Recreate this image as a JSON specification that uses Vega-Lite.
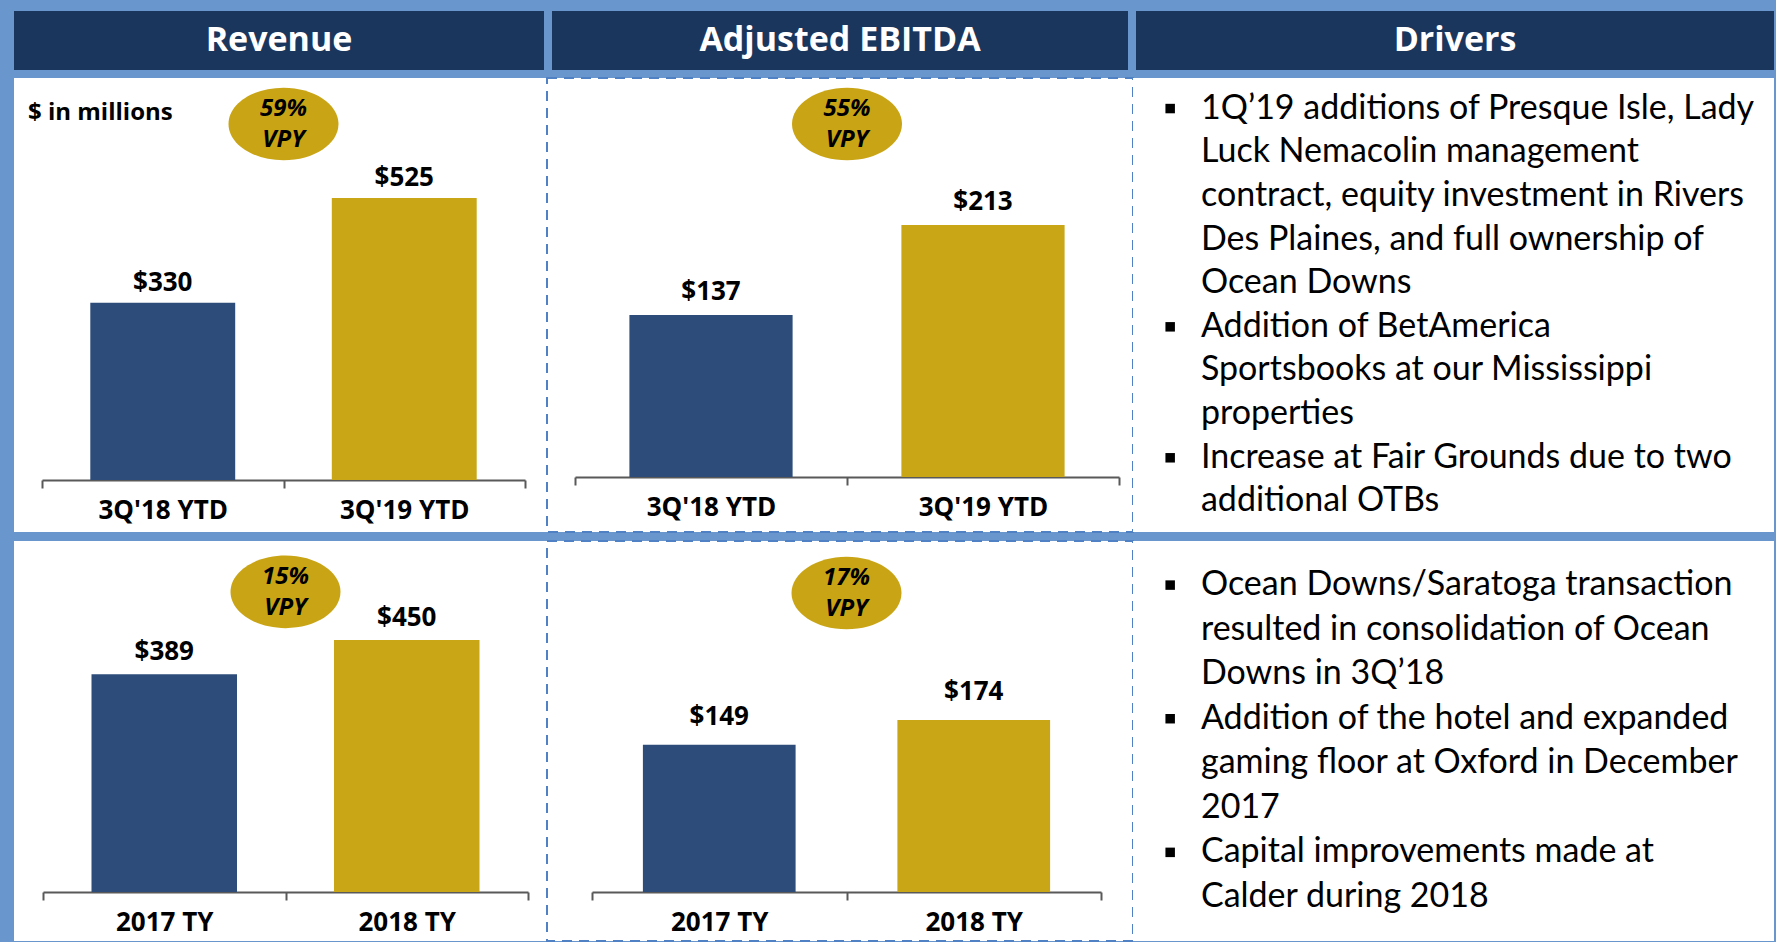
{
  "$schema": "https://vega.github.io/schema/vega-lite/v6.json",
  "background": "#6A96CE",
  "padding": {"left": 14, "top": 11, "right": 2, "bottom": 0},
  "spacing": 7,
  "config": {
    "view": {"stroke": null},
    "axisX": {
      "title": null, "labelAngle": 0, "grid": false,
      "domainColor": "#595959", "domainWidth": 2,
      "tickColor": "#595959", "tickWidth": 2, "tickSize": 8, "tickBand": "extent",
      "labelFont": "Open Sans", "labelFontWeight": "bold", "labelFontSize": 26,
      "labelColor": "#000000", "labelPadding": 22, "labelBaseline": "middle"
    }
  },
  "datasets": {
    "rev_ytd": [
      {"period": "3Q'18 YTD", "value": 330, "year": "prior"},
      {"period": "3Q'19 YTD", "value": 525, "year": "current", "growth": "59%"}
    ],
    "ebitda_ytd": [
      {"period": "3Q'18 YTD", "value": 137, "year": "prior"},
      {"period": "3Q'19 YTD", "value": 213, "year": "current", "growth": "55%"}
    ],
    "rev_ty": [
      {"period": "2017 TY", "value": 389, "year": "prior"},
      {"period": "2018 TY", "value": 450, "year": "current", "growth": "15%"}
    ],
    "ebitda_ty": [
      {"period": "2017 TY", "value": 149, "year": "prior"},
      {"period": "2018 TY", "value": 174, "year": "current", "growth": "17%"}
    ],
    "drivers_ytd": [
      {"line": 1, "bullet": true, "text": "1Q’19 additions of Presque Isle, Lady"},
      {"line": 2, "bullet": false, "text": "Luck Nemacolin management"},
      {"line": 3, "bullet": false, "text": "contract, equity investment in Rivers"},
      {"line": 4, "bullet": false, "text": "Des Plaines, and full ownership of"},
      {"line": 5, "bullet": false, "text": "Ocean Downs"},
      {"line": 6, "bullet": true, "text": "Addition of BetAmerica"},
      {"line": 7, "bullet": false, "text": "Sportsbooks at our Mississippi"},
      {"line": 8, "bullet": false, "text": "properties"},
      {"line": 9, "bullet": true, "text": "Increase at Fair Grounds due to two"},
      {"line": 10, "bullet": false, "text": "additional OTBs"}
    ],
    "drivers_ty": [
      {"line": 1, "bullet": true, "text": "Ocean Downs/Saratoga transaction"},
      {"line": 2, "bullet": false, "text": "resulted in consolidation of Ocean"},
      {"line": 3, "bullet": false, "text": "Downs in 3Q’18"},
      {"line": 4, "bullet": true, "text": "Addition of the hotel and expanded"},
      {"line": 5, "bullet": false, "text": "gaming floor at Oxford in December"},
      {"line": 6, "bullet": false, "text": "2017"},
      {"line": 7, "bullet": true, "text": "Capital improvements made at"},
      {"line": 8, "bullet": false, "text": "Calder during 2018"}
    ]
  },
  "vconcat": [
    {
      "bounds": "flush",
      "spacing": 8,
      "hconcat": [
        {
          "width": 530, "height": 59,
          "view": {"fill": "#1B365D", "stroke": null},
          "data": {"values": [{"h": "Revenue"}]},
          "mark": {"type": "text", "font": "Open Sans", "fontWeight": "bold", "fontSize": 34, "color": "#FFFFFF", "baseline": "middle"},
          "encoding": {"text": {"field": "h"}}
        },
        {
          "width": 576, "height": 59,
          "view": {"fill": "#1B365D", "stroke": null},
          "data": {"values": [{"h": "Adjusted EBITDA"}]},
          "mark": {"type": "text", "font": "Open Sans", "fontWeight": "bold", "fontSize": 34, "color": "#FFFFFF", "baseline": "middle"},
          "encoding": {"text": {"field": "h"}}
        },
        {
          "width": 638, "height": 59,
          "view": {"fill": "#1B365D", "stroke": null},
          "data": {"values": [{"h": "Drivers"}]},
          "mark": {"type": "text", "font": "Open Sans", "fontWeight": "bold", "fontSize": 34, "color": "#FFFFFF", "baseline": "middle"},
          "encoding": {"text": {"field": "h"}}
        }
      ]
    },
    {
      "bounds": "flush",
      "spacing": 0,
      "hconcat": [
        {
          "width": 533, "height": 454,
          "view": {"fill": "#FFFFFF", "stroke": null},
          "data": {"name": "rev_ytd"},
          "encoding": {
            "x": {"field": "period", "type": "nominal", "sort": null,
                  "scale": {"range": [28, 511], "paddingInner": 0, "paddingOuter": 0},
                  "axis": {"offset": -52}}
          },
          "layer": [
            {
              "mark": {"type": "bar", "width": {"band": 0.6}},
              "encoding": {
                "y": {"field": "value", "type": "quantitative", "scale": {"domain": [-96.8, 748.6], "nice": false}, "axis": null},
                "y2": {"datum": 0},
                "color": {"field": "year", "type": "nominal", "scale": {"domain": ["prior", "current"], "range": ["#2D4C79", "#C8A616"]}, "legend": null}
              }
            },
            {
              "mark": {"type": "text", "font": "Open Sans", "fontWeight": "bold", "fontSize": 26, "color": "#000000", "baseline": "alphabetic", "dy": -12},
              "encoding": {
                "y": {"field": "value", "type": "quantitative"},
                "text": {"field": "value", "type": "quantitative", "format": "$,.0f"}
              }
            },
            {
              "transform": [{"filter": "datum.growth"}],
              "mark": {"type": "point", "shape": "M -1 0 A 1 0.66 0 1 0 1 0 A 1 0.66 0 1 0 -1 0 Z", "filled": true, "size": 12100, "color": "#C9A516", "opacity": 1},
              "encoding": {
                "x": {"field": "period", "type": "nominal", "bandPosition": 0},
                "y": {"datum": 663}
              }
            },
            {
              "transform": [{"filter": "datum.growth"}],
              "mark": {"type": "text", "font": "Open Sans", "fontWeight": "bold", "fontStyle": "italic", "fontSize": 24, "color": "#000000", "baseline": "middle", "dy": -15},
              "encoding": {
                "x": {"field": "period", "type": "nominal", "bandPosition": 0},
                "y": {"datum": 663},
                "text": {"field": "growth"}
              }
            },
            {
              "transform": [{"filter": "datum.growth"}],
              "mark": {"type": "text", "font": "Open Sans", "fontWeight": "bold", "fontStyle": "italic", "fontSize": 24, "color": "#000000", "baseline": "middle", "dy": 16},
              "encoding": {
                "x": {"field": "period", "type": "nominal", "bandPosition": 0},
                "y": {"datum": 663},
                "text": {"value": "VPY"}
              }
            },
            {
              "transform": [{"filter": "datum.year == 'prior'"}],
              "mark": {"type": "text", "font": "Open Sans", "fontWeight": "bold", "fontSize": 24, "color": "#000000", "align": "left", "baseline": "alphabetic", "dx": -14},
              "encoding": {
                "x": {"field": "period", "type": "nominal", "bandPosition": 0},
                "y": {"datum": 670},
                "text": {"value": "$ in millions"}
              }
            }
          ]
        },
        {
          "width": 586, "height": 454,
          "view": {"fill": "#FFFFFF", "stroke": "#4F81C4", "strokeWidth": 2, "strokeDash": [10, 7]},
          "data": {"name": "ebitda_ytd"},
          "encoding": {
            "x": {"field": "period", "type": "nominal", "sort": null,
                  "scale": {"range": [28, 572], "paddingInner": 0, "paddingOuter": 0},
                  "axis": {"offset": -55}}
          },
          "layer": [
            {
              "mark": {"type": "bar", "width": {"band": 0.6}},
              "encoding": {
                "y": {"field": "value", "type": "quantitative", "scale": {"domain": [-46.5, 337.3], "nice": false}, "axis": null},
                "y2": {"datum": 0},
                "color": {"field": "year", "type": "nominal", "scale": {"domain": ["prior", "current"], "range": ["#2D4C79", "#C8A616"]}, "legend": null}
              }
            },
            {
              "mark": {"type": "text", "font": "Open Sans", "fontWeight": "bold", "fontSize": 26, "color": "#000000", "baseline": "alphabetic", "dy": -15},
              "encoding": {
                "y": {"field": "value", "type": "quantitative"},
                "text": {"field": "value", "type": "quantitative", "format": "$,.0f"}
              }
            },
            {
              "transform": [{"filter": "datum.growth"}],
              "mark": {"type": "point", "shape": "M -1 0 A 1 0.66 0 1 0 1 0 A 1 0.66 0 1 0 -1 0 Z", "filled": true, "size": 12100, "color": "#C9A516", "opacity": 1},
              "encoding": {
                "x": {"field": "period", "type": "nominal", "bandPosition": 0},
                "y": {"datum": 298.4}
              }
            },
            {
              "transform": [{"filter": "datum.growth"}],
              "mark": {"type": "text", "font": "Open Sans", "fontWeight": "bold", "fontStyle": "italic", "fontSize": 24, "color": "#000000", "baseline": "middle", "dy": -15},
              "encoding": {
                "x": {"field": "period", "type": "nominal", "bandPosition": 0},
                "y": {"datum": 298.4},
                "text": {"field": "growth"}
              }
            },
            {
              "transform": [{"filter": "datum.growth"}],
              "mark": {"type": "text", "font": "Open Sans", "fontWeight": "bold", "fontStyle": "italic", "fontSize": 24, "color": "#000000", "baseline": "middle", "dy": 16},
              "encoding": {
                "x": {"field": "period", "type": "nominal", "bandPosition": 0},
                "y": {"datum": 298.4},
                "text": {"value": "VPY"}
              }
            }
          ]
        },
        {
          "width": 641, "height": 454,
          "view": {"fill": "#FFFFFF", "stroke": null},
          "data": {"name": "drivers_ytd"},
          "encoding": {
            "y": {"field": "line", "type": "ordinal", "scale": {"type": "point", "padding": 0.7}, "axis": null}
          },
          "layer": [
            {
              "transform": [{"filter": "datum.bullet"}],
              "mark": {"type": "point", "shape": "square", "filled": true, "size": 90, "color": "#000000", "opacity": 1},
              "encoding": {
                "x": {"datum": 5.8, "type": "quantitative", "scale": {"domain": [0, 100], "nice": false}, "axis": null}
              }
            },
            {
              "mark": {"type": "text", "font": "Lato", "fontSize": 34, "color": "#000000", "align": "left", "baseline": "middle"},
              "encoding": {
                "x": {"datum": 10.6, "type": "quantitative"},
                "text": {"field": "text"}
              }
            }
          ]
        }
      ]
    },
    {
      "bounds": "flush",
      "spacing": 0,
      "hconcat": [
        {
          "width": 533, "height": 400,
          "view": {"fill": "#FFFFFF", "stroke": null},
          "data": {"name": "rev_ty"},
          "encoding": {
            "x": {"field": "period", "type": "nominal", "sort": null,
                  "scale": {"range": [29, 514], "paddingInner": 0, "paddingOuter": 0},
                  "axis": {"offset": -49}}
          },
          "layer": [
            {
              "mark": {"type": "bar", "width": {"band": 0.6}},
              "encoding": {
                "y": {"field": "value", "type": "quantitative", "scale": {"domain": [-87.5, 626.8], "nice": false}, "axis": null},
                "y2": {"datum": 0},
                "color": {"field": "year", "type": "nominal", "scale": {"domain": ["prior", "current"], "range": ["#2D4C79", "#C8A616"]}, "legend": null}
              }
            },
            {
              "mark": {"type": "text", "font": "Open Sans", "fontWeight": "bold", "fontSize": 26, "color": "#000000", "baseline": "alphabetic", "dy": -14},
              "encoding": {
                "y": {"field": "value", "type": "quantitative"},
                "text": {"field": "value", "type": "quantitative", "format": "$,.0f"}
              }
            },
            {
              "transform": [{"filter": "datum.growth"}],
              "mark": {"type": "point", "shape": "M -1 0 A 1 0.66 0 1 0 1 0 A 1 0.66 0 1 0 -1 0 Z", "filled": true, "size": 12100, "color": "#C9A516", "opacity": 1},
              "encoding": {
                "x": {"field": "period", "type": "nominal", "bandPosition": 0},
                "y": {"datum": 536}
              }
            },
            {
              "transform": [{"filter": "datum.growth"}],
              "mark": {"type": "text", "font": "Open Sans", "fontWeight": "bold", "fontStyle": "italic", "fontSize": 24, "color": "#000000", "baseline": "middle", "dy": -15},
              "encoding": {
                "x": {"field": "period", "type": "nominal", "bandPosition": 0},
                "y": {"datum": 536},
                "text": {"field": "growth"}
              }
            },
            {
              "transform": [{"filter": "datum.growth"}],
              "mark": {"type": "text", "font": "Open Sans", "fontWeight": "bold", "fontStyle": "italic", "fontSize": 24, "color": "#000000", "baseline": "middle", "dy": 16},
              "encoding": {
                "x": {"field": "period", "type": "nominal", "bandPosition": 0},
                "y": {"datum": 536},
                "text": {"value": "VPY"}
              }
            }
          ]
        },
        {
          "width": 586, "height": 400,
          "view": {"fill": "#FFFFFF", "stroke": "#4F81C4", "strokeWidth": 2, "strokeDash": [10, 7]},
          "data": {"name": "ebitda_ty"},
          "encoding": {
            "x": {"field": "period", "type": "nominal", "sort": null,
                  "scale": {"range": [45, 554], "paddingInner": 0, "paddingOuter": 0},
                  "axis": {"offset": -49}}
          },
          "layer": [
            {
              "mark": {"type": "bar", "width": {"band": 0.6}},
              "encoding": {
                "y": {"field": "value", "type": "quantitative", "scale": {"domain": [-49.6, 355.3], "nice": false}, "axis": null},
                "y2": {"datum": 0},
                "color": {"field": "year", "type": "nominal", "scale": {"domain": ["prior", "current"], "range": ["#2D4C79", "#C8A616"]}, "legend": null}
              }
            },
            {
              "mark": {"type": "text", "font": "Open Sans", "fontWeight": "bold", "fontSize": 26, "color": "#000000", "baseline": "alphabetic", "dy": -20},
              "encoding": {
                "y": {"field": "value", "type": "quantitative"},
                "text": {"field": "value", "type": "quantitative", "format": "$,.0f"}
              }
            },
            {
              "transform": [{"filter": "datum.growth"}],
              "mark": {"type": "point", "shape": "M -1 0 A 1 0.66 0 1 0 1 0 A 1 0.66 0 1 0 -1 0 Z", "filled": true, "size": 12100, "color": "#C9A516", "opacity": 1},
              "encoding": {
                "x": {"field": "period", "type": "nominal", "bandPosition": 0},
                "y": {"datum": 302.7}
              }
            },
            {
              "transform": [{"filter": "datum.growth"}],
              "mark": {"type": "text", "font": "Open Sans", "fontWeight": "bold", "fontStyle": "italic", "fontSize": 24, "color": "#000000", "baseline": "middle", "dy": -15},
              "encoding": {
                "x": {"field": "period", "type": "nominal", "bandPosition": 0},
                "y": {"datum": 302.7},
                "text": {"field": "growth"}
              }
            },
            {
              "transform": [{"filter": "datum.growth"}],
              "mark": {"type": "text", "font": "Open Sans", "fontWeight": "bold", "fontStyle": "italic", "fontSize": 24, "color": "#000000", "baseline": "middle", "dy": 16},
              "encoding": {
                "x": {"field": "period", "type": "nominal", "bandPosition": 0},
                "y": {"datum": 302.7},
                "text": {"value": "VPY"}
              }
            }
          ]
        },
        {
          "width": 641, "height": 400,
          "view": {"fill": "#FFFFFF", "stroke": null},
          "data": {"name": "drivers_ty"},
          "encoding": {
            "y": {"field": "line", "type": "ordinal", "scale": {"type": "point", "padding": 0.99}, "axis": null}
          },
          "layer": [
            {
              "transform": [{"filter": "datum.bullet"}],
              "mark": {"type": "point", "shape": "square", "filled": true, "size": 90, "color": "#000000", "opacity": 1},
              "encoding": {
                "x": {"datum": 5.8, "type": "quantitative", "scale": {"domain": [0, 100], "nice": false}, "axis": null}
              }
            },
            {
              "mark": {"type": "text", "font": "Lato", "fontSize": 34, "color": "#000000", "align": "left", "baseline": "middle"},
              "encoding": {
                "x": {"datum": 10.6, "type": "quantitative"},
                "text": {"field": "text"}
              }
            }
          ]
        }
      ]
    }
  ]
}
